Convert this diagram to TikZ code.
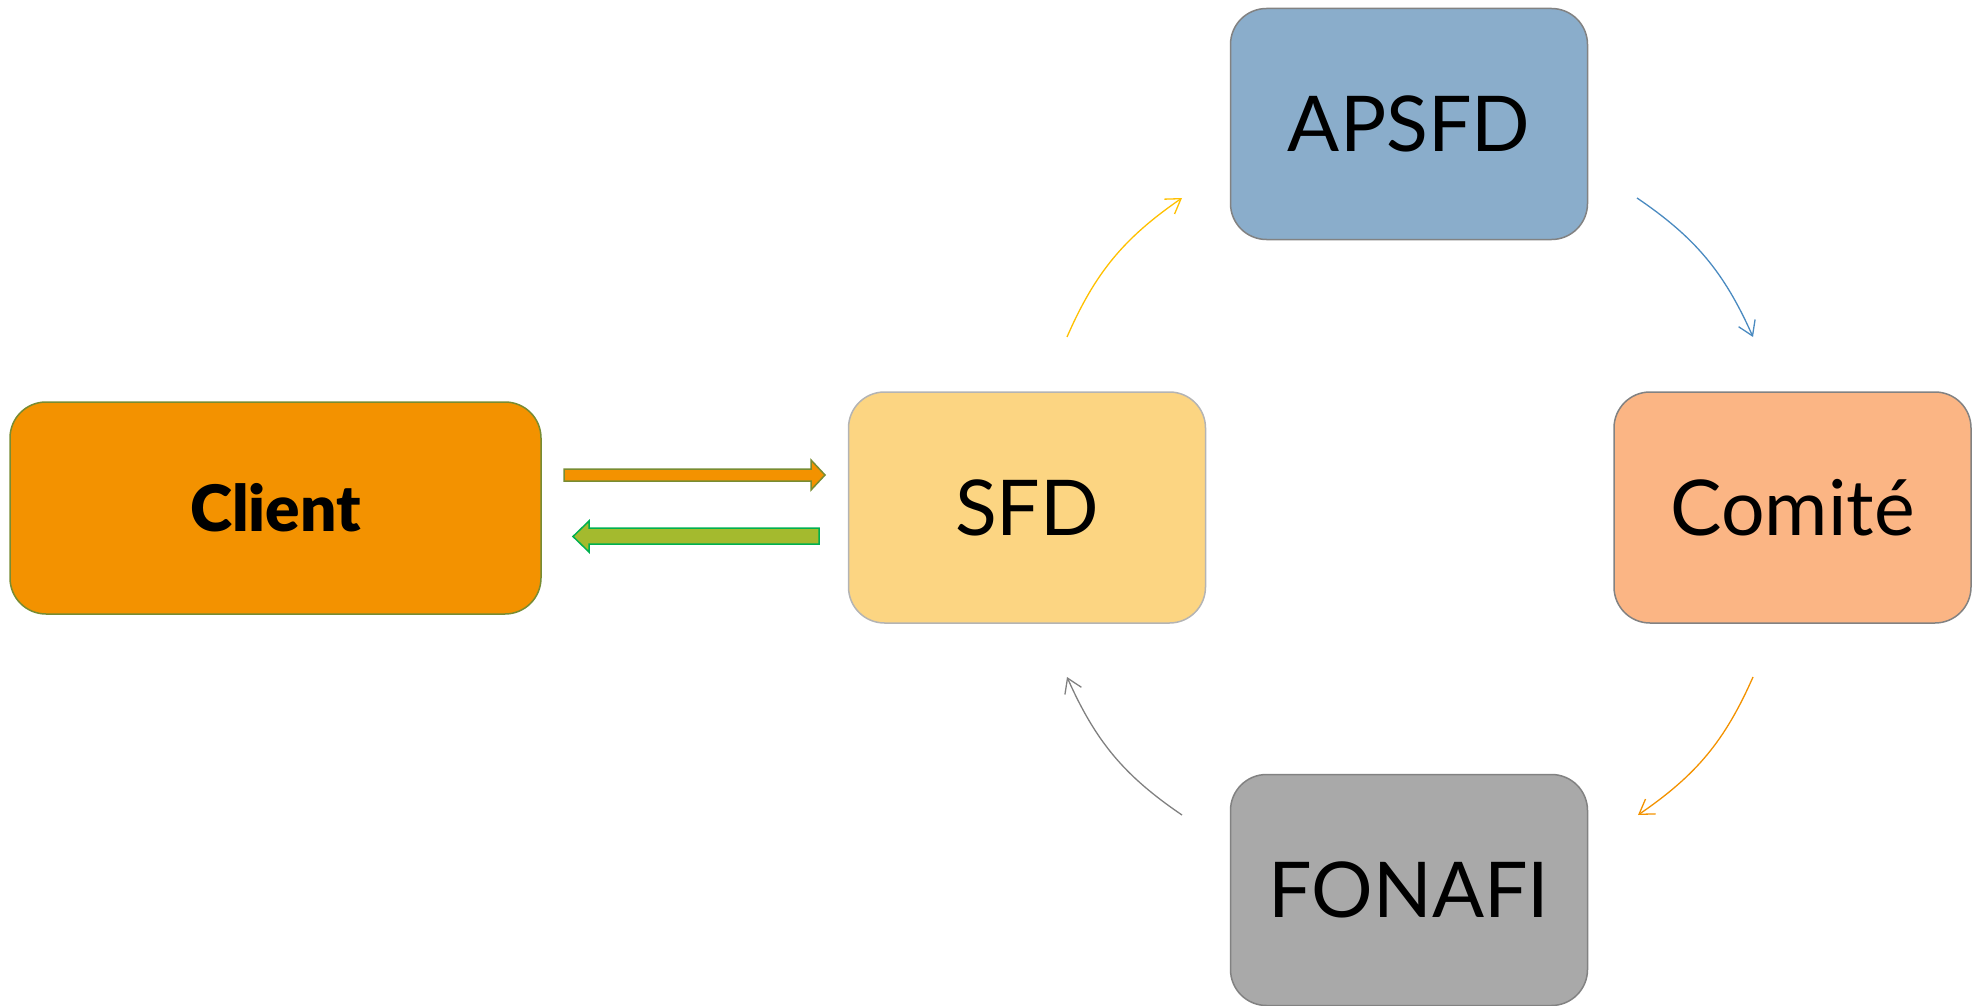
\documentclass[tikz,border=0pt]{standalone}
\usepackage{fontspec}
\setmainfont{Lato}
\newfontfamily\blackfont{Lato Black}
\usetikzlibrary{arrows.meta,bending}
\definecolor{cliorange}{RGB}{243,146,0}
\definecolor{cliborder}{RGB}{120,140,50}
\definecolor{sfdfill}{RGB}{252,213,130}
\definecolor{apfill}{RGB}{138,173,203}
\definecolor{cofill}{RGB}{251,181,132}
\definecolor{fofill}{RGB}{169,169,169}
\definecolor{boxborder}{RGB}{130,130,130}
\definecolor{gfill}{RGB}{164,186,46}
\definecolor{gborder}{RGB}{0,176,80}
\definecolor{ayellow}{RGB}{255,192,0}
\definecolor{ablue}{RGB}{74,138,192}
\definecolor{agray}{RGB}{128,128,128}
\tikzset{
  box/.style={rounded corners=36pt, minimum width=357pt, minimum height=231pt, inner sep=0pt, line width=1.5pt, draw=boxborder, font=\fontsize{77}{92}\selectfont},
  curv/.style={line width=1.3pt, -{Straight Barb[length=14pt,width=18pt]}},
}
\begin{document}
\begin{tikzpicture}[x=1pt,y=-1pt]
\useasboundingbox (0,0) rectangle (1982,1006);
\node[box, fill=cliorange, draw=cliborder, minimum width=531pt, minimum height=212pt, font=\fontsize{64}{76}\blackfont] (client) at (275.5,508) {Client};
\node[box, fill=sfdfill, draw=boxborder!60] (sfd) at (1027,507.5) {SFD};
\node[box, fill=apfill] (ap) at (1409,124) {APSFD};
\node[box, fill=cofill] (co) at (1792.5,507.5) {Comité};
\node[box, fill=fofill] (fo) at (1409,890) {FONAFI};
% block arrows
\coordinate (r0) at (564,475);
\coordinate (l0) at (819,536);
\draw[cliborder, fill=cliorange, line width=1.5pt] (r0) ++(0,-6) -- ++(247,0) -- ++(0,-9) -- (825,475) -- (811,490) -- ++(0,-9) -- ++(-247,0) -- cycle;
\draw[gborder, fill=gfill, line width=1.5pt] (l0) ++(0,-8) -- ++(-230,0) -- ++(0,-7) -- (573,536.5) -- (589,552) -- ++(0,-8) -- ++(230,0) -- cycle;
% curved arrows
\coordinate (y1) at (1067,337); \coordinate (y2) at (1182,198);
\coordinate (b1) at (1637,198); \coordinate (b2) at (1753,337);
\coordinate (o1) at (1753,677); \coordinate (o2) at (1638,815);
\coordinate (g1) at (1182,815); \coordinate (g2) at (1067,677);
\draw[curv, ayellow] (y1) to[bend left=16] (y2);
\draw[curv, ablue] (b1) to[bend left=16] (b2);
\draw[curv, cliorange] (o1) to[bend left=16] (o2);
\draw[curv, agray] (g1) to[bend left=16] (g2);
\end{tikzpicture}
\end{document}
